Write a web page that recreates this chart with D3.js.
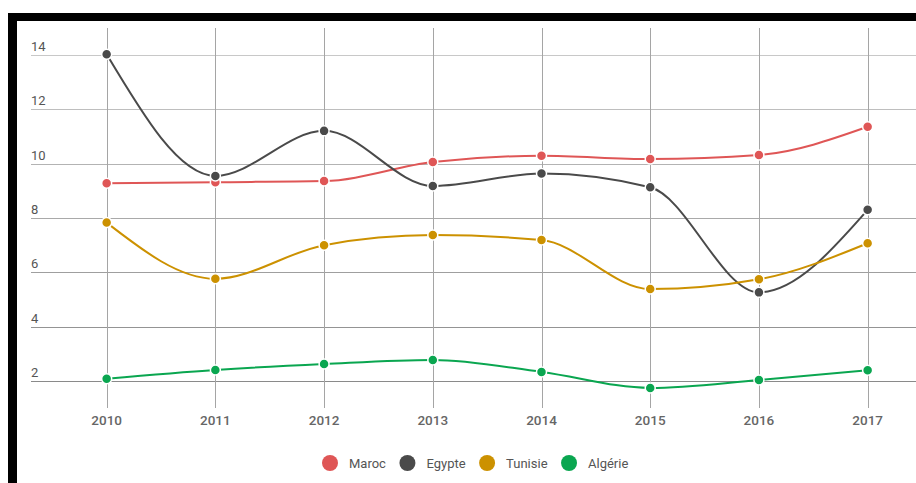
<!DOCTYPE html>
<html>
<head>
<meta charset="utf-8">
<script src="https://cdn.jsdelivr.net/npm/d3@7"></script>
<style>
  html, body { margin: 0; padding: 0; background: #fff; }
  svg { display: block; font-family: Roboto, "Noto Sans", sans-serif; }
</style>
</head>
<body>
<svg id="chart" width="916" height="483"></svg>
<script>
const years = ["2010", "2011", "2012", "2013", "2014", "2015", "2016", "2017"];
const yTicks = [2, 4, 6, 8, 10, 12, 14];
const seriesNames = ["Maroc", "Egypte", "Tunisie", "Algérie"];
const maroc   = [9.28, 9.32, 9.36, 10.06, 10.29, 10.17, 10.32, 11.36];
const egypte  = [14.03, 9.55, 11.21, 9.18, 9.64, 9.13, 5.26, 8.30];
const tunisie = [7.83, 5.76, 7.00, 7.37, 7.19, 5.38, 5.74, 7.07];
const algerie = [2.08, 2.40, 2.62, 2.77, 2.33, 1.74, 2.03, 2.39];
const colors  = ["#df5656", "#4a4a4a", "#cc9100", "#0aa650"];

const series = [maroc, egypte, tunisie, algerie].map((vals, i) => ({
  name: seriesNames[i], color: colors[i],
  values: vals.map((v, j) => ({ year: years[j], v }))
}));

const svg = d3.select("#chart");

// frame
svg.append("rect").attr("x", 8).attr("y", 13).attr("width", 908).attr("height", 8).attr("fill", "#000");
svg.append("rect").attr("x", 8).attr("y", 13).attr("width", 9).attr("height", 470).attr("fill", "#000");

const x = d3.scaleBand().domain(years).range([52.3, 922]);
const y = d3.scaleLinear().domain([1, 15]).range([408, 28]);
const cx = d => x(d) + x.bandwidth() / 2;

const gridColor = d3.scaleLinear().domain([14, 2]).range(["#c8c8c8", "#8a8a8a"]);

// horizontal gridlines
const hg = svg.append("g");
hg.selectAll("line").data(yTicks).join("line")
  .attr("x1", 31).attr("x2", 916)
  .attr("y1", d => Math.round(y(d)) + 0.5).attr("y2", d => Math.round(y(d)) + 0.5)
  .attr("stroke", d => gridColor(d)).attr("stroke-width", 1);
hg.selectAll("text").data(yTicks).join("text")
  .attr("x", 31).attr("y", d => y(d) - 4)
  .attr("font-size", 13).attr("fill", "#555")
  .text(d => d);

// vertical gridlines
const vg = svg.append("g");
vg.selectAll("line").data(years).join("line")
  .attr("x1", d => Math.round(cx(d)) + 0.5).attr("x2", d => Math.round(cx(d)) + 0.5)
  .attr("y1", 28).attr("y2", 408)
  .attr("stroke", "#a5a5a5").attr("stroke-width", 1);
vg.selectAll("text").data(years).join("text")
  .attr("x", d => cx(d)).attr("y", 425)
  .attr("text-anchor", "middle")
  .attr("font-size", 13.5).attr("font-weight", 500).attr("fill", "#666")
  .text(d => d);

// lines
const line = d3.line().x(d => cx(d.year)).y(d => y(d.v)).curve(d3.curveMonotoneX);
svg.append("g").selectAll("path").data(series).join("path")
  .attr("d", s => line(s.values))
  .attr("fill", "none").attr("stroke", s => s.color).attr("stroke-width", 2);

// points
const pg = svg.append("g");
series.forEach(s => {
  pg.append("g").selectAll("circle").data(s.values).join("circle")
    .attr("cx", d => cx(d.year)).attr("cy", d => y(d.v)).attr("r", 5)
    .attr("fill", s.color).attr("stroke", "#fff").attr("stroke-width", 1.5);
});

// legend
const lg = svg.append("g");
let lx = 0;
const items = [];
series.forEach(s => {
  const g = lg.append("g");
  g.append("circle").attr("cx", 8).attr("cy", 0).attr("r", 8).attr("fill", s.color);
  const t = g.append("text").attr("x", 27).attr("y", 4.5)
    .attr("font-size", 13).attr("fill", "#555").text(s.name);
  const w = 27 + t.node().getComputedTextLength();
  items.push({ g, w });
});
items.forEach(it => { it.g.attr("transform", `translate(${lx},463)`); lx += it.w + 13.5; });
lg.attr("transform", `translate(322,0)`);
</script>
</body>
</html>
